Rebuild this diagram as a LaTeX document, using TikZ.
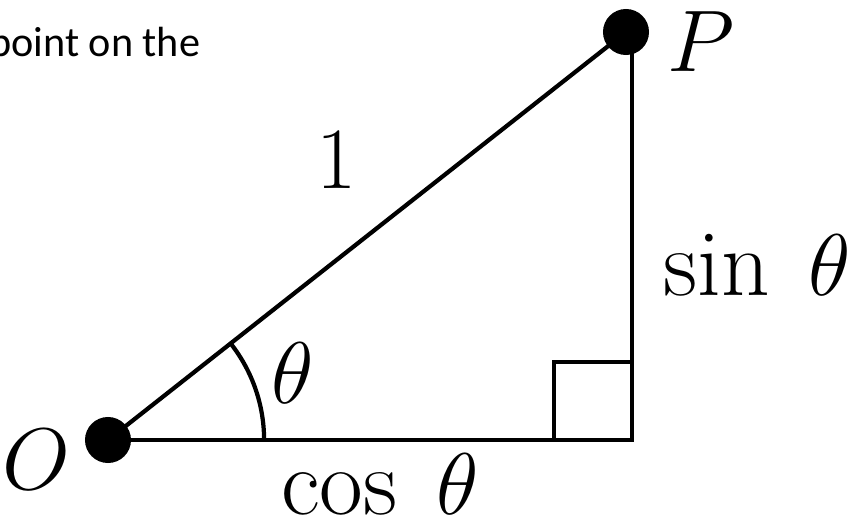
\documentclass[tikz,border=0pt]{standalone}
\usepackage{fontspec}
\newfontfamily\notefont{Carlito}
\usetikzlibrary{angles}

\begin{document}
\begin{tikzpicture}[
        x = 0.01cm, y = 0.01cm,
        side/.style = {
            line width = 1.2pt,
            black
        },
        dot/.style = {
            circle,
            fill = black,
            inner sep = 0pt,
            minimum size = 0.46cm
        },
        lbl/.style = {
            font = \fontsize{27}{32}\selectfont,
            inner sep = 0pt
        }
    ]
        \useasboundingbox (0,0) rectangle (866,526);
        \clip (0,0) rectangle (866,526);

        \node[anchor = east, font = \notefont\fontsize{12}{15}\selectfont, inner sep = 0pt] (note) at (201,481) {point on the};

        \coordinate (C) at (632,86);
        \node[dot] (O) at (108,86) {};
        \node[dot] (P) at (626,494) {};

        \draw[side] (O.center) -- (C) -- (C |- P);
        \draw[side] (O.center) -- (P.center);
        \draw[side] (554,86) rectangle (632,164);
        \pic[draw, line width = 1.2pt, angle radius = 1.56cm] {angle = C--O--P};

        \node[lbl] (one) at (337,366) {$1$};
        \node[lbl] (sin) at (757,261) {$\sin\;\theta$};
        \node[lbl] (cos) at (380,42) {$\cos\;\theta$};
        \node[lbl] (ang) at (293,153) {$\theta$};
        \node[lbl] (oname) at (36,66) {$O$};
        \node[lbl] (pname) at (701,484) {$P$};
    \end{tikzpicture}
\end{document}
